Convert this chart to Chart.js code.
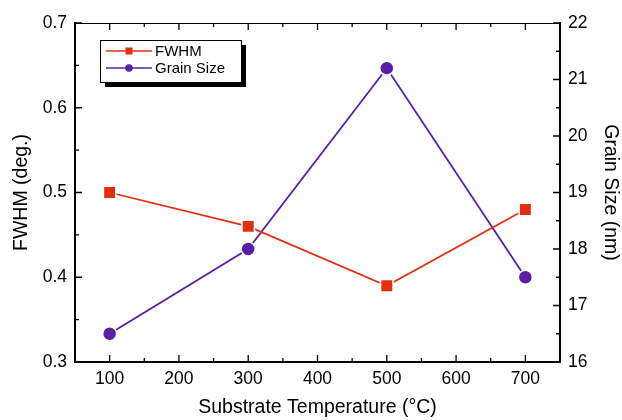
<!DOCTYPE html>
<html>
<head>
<meta charset="utf-8">
<script src="https://cdn.jsdelivr.net/npm/chart.js@4"></script>
<style>
  html, body { margin: 0; padding: 0; background: #fff; }
  #wrap { width: 622px; height: 420px; position: relative; }
</style>
</head>
<body>
<div id="wrap"><canvas id="chart"></canvas></div>
<script>
// data
const temperatures = [100, 300, 500, 700];
const fwhm = [0.50, 0.46, 0.39, 0.48];
const grainSize = [16.5, 18.0, 21.2, 17.5];
const xTicks = [100, 200, 300, 400, 500, 600, 700];
const fwhmTicks = [0.3, 0.4, 0.5, 0.6, 0.7];
const grainTicks = [16, 17, 18, 19, 20, 21, 22];

const RED = '#e2300f';
const PURPLE = '#5a1fa5';
const FONT = 'Liberation Sans, Arial, Helvetica, sans-serif';

// inward ticks + thin top frame line
const frameTicks = {
  id: 'frameTicks',
  afterDraw(chart) {
    const ctx = chart.ctx;
    const a = chart.chartArea;
    const x = chart.scales.x, y = chart.scales.y, y1 = chart.scales.y1;
    ctx.save();
    ctx.strokeStyle = '#000';
    ctx.lineWidth = 1;
    ctx.beginPath();
    ctx.moveTo(a.left, a.top + 0.5);
    ctx.lineTo(a.right, a.top + 0.5);
    ctx.stroke();

    ctx.lineWidth = 1.3;
    ctx.beginPath();
    for (let v = 50; v <= 750; v += 50) {
      const px = x.getPixelForValue(v);
      const len = v % 100 === 0 ? 7 : 4;
      ctx.moveTo(px, a.bottom); ctx.lineTo(px, a.bottom - len);
      ctx.moveTo(px, a.top); ctx.lineTo(px, a.top + len);
    }
    for (let i = 0; i <= 8; i++) {
      const v = 0.3 + i * 0.05;
      const py = y.getPixelForValue(v);
      const len = i % 2 === 0 ? 7 : 4;
      ctx.moveTo(a.left, py); ctx.lineTo(a.left + len, py);
    }
    for (let i = 0; i <= 12; i++) {
      const v = 16 + i * 0.5;
      const py = y1.getPixelForValue(v);
      const len = i % 2 === 0 ? 7 : 4;
      ctx.moveTo(a.right, py); ctx.lineTo(a.right - len, py);
    }
    ctx.stroke();
    ctx.restore();
  }
};

// legend box with drop shadow, like the original
const shadowLegend = {
  id: 'shadowLegend',
  afterDraw(chart) {
    const ctx = chart.ctx;
    const bx = 100, by = 40, bw = 141, bh = 42;
    ctx.save();
    ctx.fillStyle = '#000';
    ctx.fillRect(bx + 5, by + 5, bw, bh);
    ctx.fillStyle = '#fff';
    ctx.fillRect(bx, by, bw, bh);
    ctx.strokeStyle = '#000';
    ctx.lineWidth = 1;
    ctx.strokeRect(bx + 0.5, by + 0.5, bw, bh);

    const rows = [
      { label: 'FWHM', color: RED, square: true, y: by + 11 },
      { label: 'Grain Size', color: PURPLE, square: false, y: by + 28 }
    ];
    ctx.font = '15px ' + FONT;
    ctx.textBaseline = 'middle';
    rows.forEach(r => {
      ctx.strokeStyle = r.color;
      ctx.lineWidth = 1.5;
      ctx.beginPath();
      ctx.moveTo(bx + 6, r.y); ctx.lineTo(bx + 52, r.y);
      ctx.stroke();
      ctx.fillStyle = r.color;
      if (r.square) {
        ctx.fillRect(bx + 29 - 3.5, r.y - 3.5, 7, 7);
      } else {
        ctx.beginPath();
        ctx.arc(bx + 29, r.y, 3.8, 0, Math.PI * 2);
        ctx.fill();
      }
      ctx.fillStyle = '#000';
      ctx.fillText(r.label, bx + 55, r.y + 1);
    });
    ctx.restore();
  }
};

const pts = (vals) => temperatures.map((t, i) => ({ x: t, y: vals[i] }));

new Chart(document.getElementById('chart'), {
  type: 'line',
  data: {
    datasets: [
      {
        label: 'FWHM',
        data: pts(fwhm),
        yAxisID: 'y',
        borderColor: RED,
        backgroundColor: RED,
        borderWidth: 1.8,
        pointStyle: 'rect',
        pointRadius: 8.8,
        pointBorderColor: '#fff',
        pointBorderWidth: 1.5,
        tension: 0
      },
      {
        label: 'Grain Size',
        data: pts(grainSize),
        yAxisID: 'y1',
        borderColor: PURPLE,
        backgroundColor: PURPLE,
        borderWidth: 1.8,
        pointStyle: 'circle',
        pointRadius: 7,
        pointBorderColor: '#fff',
        pointBorderWidth: 1.5,
        tension: 0
      }
    ]
  },
  options: {
    responsive: true,
    maintainAspectRatio: false,
    animation: false,
    layout: { padding: { left: 0, right: 0, top: 23, bottom: 0 } },
    plugins: {
      legend: { display: false },
      tooltip: { enabled: false }
    },
    scales: {
      x: {
        type: 'linear',
        min: 50,
        max: 750,
        afterBuildTicks: (s) => { s.ticks = xTicks.map(v => ({ value: v })); },
        afterFit: (s) => { s.height = 58; },
        grid: { display: true, drawOnChartArea: false, drawTicks: false },
        border: { color: '#000', width: 2 },
        ticks: { color: '#000', padding: 7, font: { family: FONT, size: 17.5 } },
        title: {
          display: true,
          text: 'Substrate Temperature (°C)',
          color: '#000',
          font: { family: FONT, size: 19.5 },
          padding: { top: 4, bottom: 1 }
        }
      },
      y: {
        position: 'left',
        min: 0.3,
        max: 0.7,
        afterBuildTicks: (s) => { s.ticks = fwhmTicks.map(v => ({ value: v })); },
        afterFit: (s) => { s.width = 75; },
        grid: { display: true, drawOnChartArea: false, drawTicks: false },
        border: { color: '#000', width: 2 },
        ticks: {
          color: '#000',
          padding: 8,
          font: { family: FONT, size: 17.5 },
          callback: (v) => v.toFixed(1)
        },
        title: {
          display: true,
          text: 'FWHM (deg.)',
          color: '#000',
          font: { family: FONT, size: 19.5 },
          padding: { top: 10, bottom: 0 }
        }
      },
      y1: {
        position: 'right',
        min: 16,
        max: 22,
        afterBuildTicks: (s) => { s.ticks = grainTicks.map(v => ({ value: v })); },
        afterFit: (s) => { s.width = 62; },
        grid: { display: true, drawOnChartArea: false, drawTicks: false },
        border: { color: '#000', width: 2 },
        ticks: { color: '#000', padding: 8, font: { family: FONT, size: 17.5 } },
        title: {
          display: true,
          text: 'Grain Size (nm)',
          color: '#000',
          font: { family: FONT, size: 19.5 },
          padding: { top: 0, bottom: 0 }
        }
      }
    }
  },
  plugins: [frameTicks, shadowLegend]
});
</script>
</body>
</html>
